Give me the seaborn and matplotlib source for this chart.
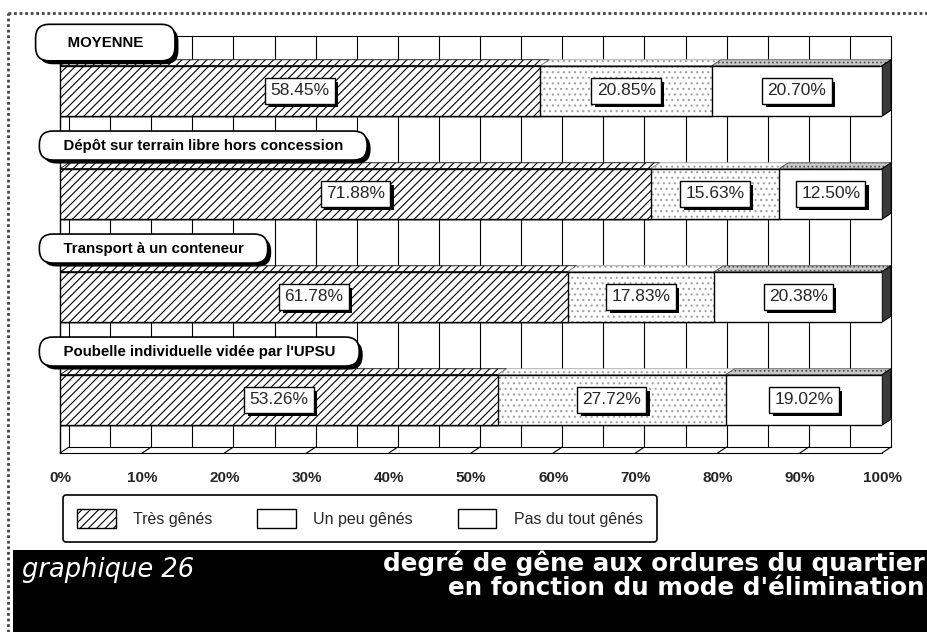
import matplotlib
matplotlib.use("Agg")
import matplotlib.pyplot as plt
import seaborn as sns
import pandas as pd
import numpy as np
from matplotlib.patches import Polygon, Rectangle, Patch
from matplotlib.lines import Line2D
from matplotlib import patheffects as pe

# data
modes = ["MOYENNE",
         "Dépôt sur terrain libre hors concession",
         "Transport à un conteneur",
         "Poubelle individuelle vidée par l'UPSU"]
tres_genes = [58.45, 71.88, 61.78, 53.26]
un_peu_genes = [20.85, 15.63, 17.83, 27.72]
pas_du_tout = [20.70, 12.50, 20.38, 19.02]
series_names = ["Très gênés", "Un peu gênés", "Pas du tout gênés"]
x_ticks = [0, 10, 20, 30, 40, 50, 60, 70, 80, 90, 100]
x_tick_labels = [f"{t}%" for t in x_ticks]

sns.set_theme(style="white")
plt.rcParams['font.family'] = ['Liberation Sans', 'DejaVu Sans']
plt.rcParams['hatch.linewidth'] = 0.8

df = pd.DataFrame({"mode": modes, "tres": tres_genes,
                   "un_peu": un_peu_genes, "pas": pas_du_tout})
df["cum2"] = df["tres"] + df["un_peu"]
df["cum3"] = df["cum2"] + df["pas"]

fig = plt.figure(figsize=(9.27, 6.32), dpi=100)
ax = fig.add_axes([60 / 927, 172 / 632, 822 / 927, 440 / 632])

BAR_H = 0.49
DX, DY = 1.1, -0.058   # 3D depth offset in data units

# stacked bars: total first, then cumulative layers on top
sns.barplot(data=df, x="cum3", y="mode", orient="h", width=BAR_H, color="white",
            edgecolor="black", linewidth=1, errorbar=None, ax=ax, zorder=3)
sns.barplot(data=df, x="cum2", y="mode", orient="h", width=BAR_H, color="white",
            edgecolor="#a0a0a0", linewidth=0, errorbar=None, ax=ax, zorder=3)
for p in ax.containers[-1]:
    p.set_hatch("...")
sns.barplot(data=df, x="cum2", y="mode", orient="h", width=BAR_H, color="black",
            fill=False, linewidth=1, errorbar=None, ax=ax, zorder=3)
sns.barplot(data=df, x="tres", y="mode", orient="h", width=BAR_H, color="white",
            edgecolor="black", linewidth=1, errorbar=None, ax=ax, zorder=3)
for p in ax.containers[-1]:
    p.set_hatch("////")

ax.set_xlim(0, 100)
ax.set_ylim(3.583, -0.689)

# back wall grid and floor
wall_top, floor_y = -0.534, 3.515
for xv in np.arange(0, 101, 5):
    ax.plot([xv + DX, xv + DX], [wall_top, floor_y + DY], color="black",
            lw=0.8, zorder=1, clip_on=False)
ax.plot([DX, 100 + DX], [wall_top, wall_top], color="black", lw=0.8, zorder=1, clip_on=False)
ax.plot([0, 100], [floor_y, floor_y], color="black", lw=0.8, zorder=1, clip_on=False)
ax.plot([DX, 100 + DX], [floor_y + DY, floor_y + DY], color="black", lw=0.8, zorder=1, clip_on=False)
for xv in np.arange(0, 101, 10):
    ax.plot([xv, xv + DX], [floor_y, floor_y + DY], color="black", lw=0.8, zorder=1, clip_on=False)
ax.plot([0, 0], [wall_top - DY, floor_y], color="black", lw=1, zorder=1, clip_on=False)

# 3D top and side faces
top_styles = [dict(fc="white", hatch="////", ec="black"),
              dict(fc="white", hatch="...", ec="#a0a0a0"),
              dict(fc="#c8c8c8", hatch="....", ec="#555555")]
for i in range(len(modes)):
    yt, yb = i - BAR_H / 2, i + BAR_H / 2
    bounds = [0, df.loc[i, "tres"], df.loc[i, "cum2"], df.loc[i, "cum3"]]
    for k in range(3):
        a, b = bounds[k], bounds[k + 1]
        face = Polygon([(a, yt), (b, yt), (b + DX, yt + DY), (a + DX, yt + DY)],
                       closed=True, lw=0.6, zorder=2.9, clip_on=False, **top_styles[k])
        ax.add_patch(face)
    end = bounds[-1]
    side = Polygon([(end, yt), (end + DX, yt + DY), (end + DX, yb + DY), (end, yb)],
                   closed=True, fc="#3a3a3a", ec="black", lw=0.8, zorder=2.9, clip_on=False)
    ax.add_patch(side)

box_shadow = [pe.SimplePatchShadow(offset=(2.5, -2.5), shadow_rgbFace="black", alpha=1),
              pe.Normal()]

# category labels in rounded boxes
for i, name in enumerate(modes):
    pad = 0.75 if i == 0 else 0.5
    spaces = "     " if i == 0 else "    "
    t = ax.text(-1.6, i - 0.47, spaces + name + spaces, ha="left", va="center",
                fontsize=10.8, fontweight="bold", color="black", zorder=6,
                bbox=dict(boxstyle=f"round,pad={pad},rounding_size=0.9",
                          fc="white", ec="black", lw=1.2))
    t.get_bbox_patch().set_path_effects(box_shadow)

# value labels
for i in range(len(modes)):
    vals = [df.loc[i, "tres"], df.loc[i, "un_peu"], df.loc[i, "pas"]]
    starts = [0, df.loc[i, "tres"], df.loc[i, "cum2"]]
    for v, s in zip(vals, starts):
        t = ax.text(s + v / 2, i, f"{v:.2f}%", ha="center", va="center",
                    fontsize=12.5, zorder=8,
                    bbox=dict(boxstyle="square,pad=0.3", fc="white", ec="black", lw=1))
        t.get_bbox_patch().set_path_effects(box_shadow)

ax.set_xticks(x_ticks)
ax.set_xticklabels(x_tick_labels, fontsize=11, fontweight="bold")
ax.set_yticks([])
ax.set_xlabel("")
ax.set_ylabel("")
ax.tick_params(axis="x", length=0, pad=8)
for s in ax.spines.values():
    s.set_visible(False)
ax.set_facecolor("none")

# legend
handles = [Patch(fc="white", ec="black", hatch="////"),
           Patch(fc="white", ec="black"),
           Patch(fc="white", ec="black")]
leg = fig.legend(handles, series_names, loc="upper left",
                 bbox_to_anchor=(63 / 927, 1 - 495 / 632), ncol=3, fontsize=11.5,
                 frameon=True, fancybox=True, edgecolor="black", framealpha=1,
                 handlelength=2.4, handleheight=1.4, handletextpad=1.1,
                 columnspacing=2.8, borderpad=0.9, borderaxespad=0)
leg.get_frame().set_linewidth(1.2)

# bottom banner
fig.patches.append(Rectangle((13 / 927, 0), 1, 82 / 632, transform=fig.transFigure,
                             fc="black", ec="none", zorder=0))
fig.text(22 / 927, 1 - 570 / 632, "graphique 26", color="white", fontsize=18.5,
         style="italic", family="DejaVu Sans", ha="left", va="center")
fig.text(925 / 927, 1 - 563 / 632, "degré de gêne aux ordures du quartier", color="white",
         fontsize=17.7, fontweight="bold", family="DejaVu Sans", ha="right", va="center")
fig.text(925 / 927, 1 - 588 / 632, "en fonction du mode d'élimination", color="white",
         fontsize=17.7, fontweight="bold", family="DejaVu Sans", ha="right", va="center")

# page frame
fig.add_artist(Line2D([8 / 927, 1], [1 - 13 / 632, 1 - 13 / 632], color="#444444",
                      lw=2, ls=(0, (1, 1)), transform=fig.transFigure))
fig.add_artist(Line2D([8 / 927, 8 / 927], [0, 1 - 13 / 632], color="#444444",
                      lw=2, ls=(0, (1, 1)), transform=fig.transFigure))

fig.savefig("out.png", dpi=100)
